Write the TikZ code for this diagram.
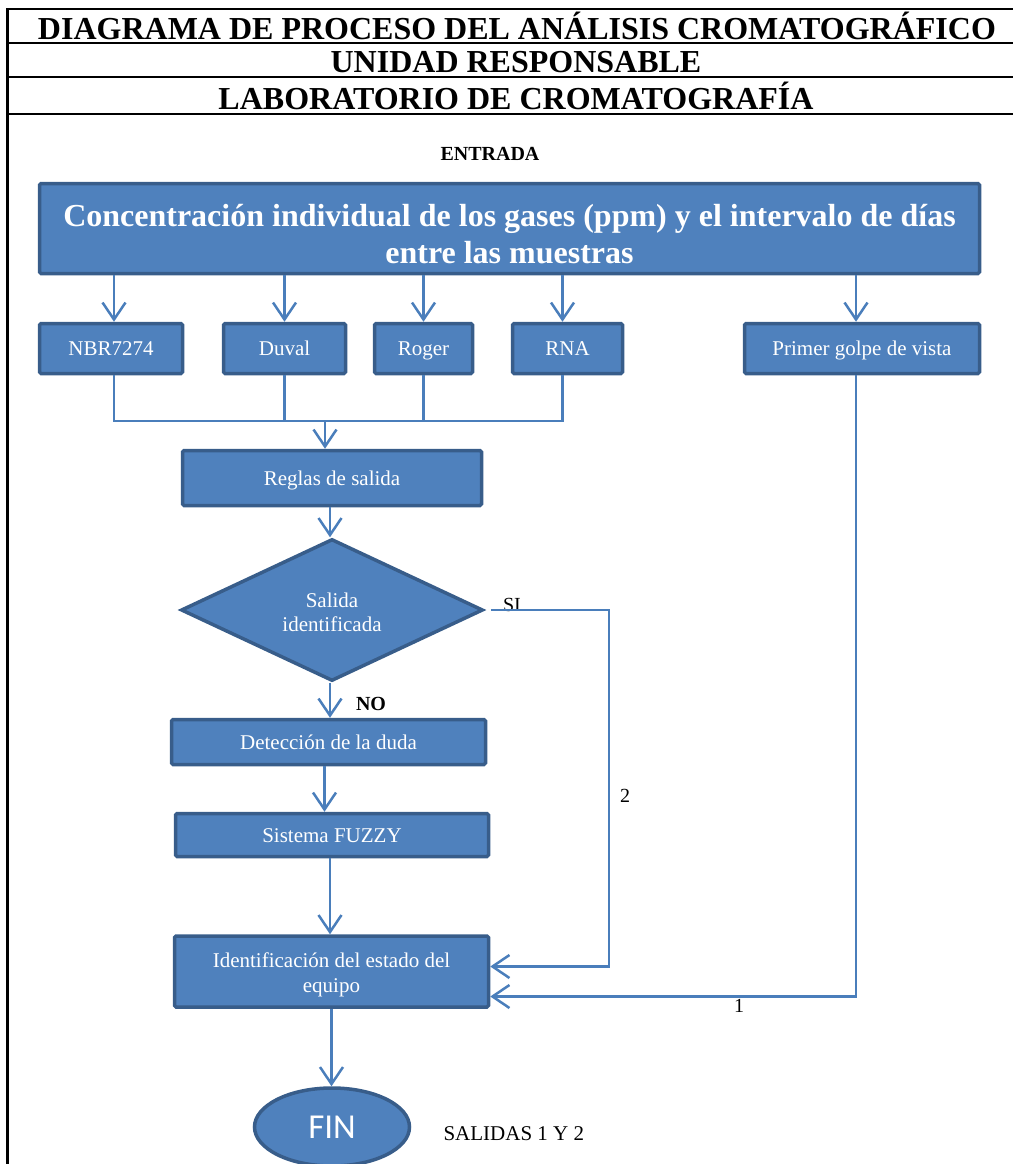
\documentclass[tikz,border=0pt]{standalone}
\usepackage{fontspec}
\setmainfont{Liberation Serif}
\newfontfamily\finfont{Carlito}
\usetikzlibrary{shapes.geometric, arrows.meta}
\definecolor{boxblue}{HTML}{4F81BD}
\definecolor{boxedge}{HTML}{385D8A}
\definecolor{linkblue}{HTML}{4A7EBB}
\tikzset{%
  x=1pt, y=-1pt, % one unit is one pixel of the page, y runs downwards
  stepbox/.style={draw=boxedge, fill=boxblue, line width=3.5pt, rounded corners=1.5pt,
    text=white, inner sep=0pt, align=center, font=\fontsize{21}{24}\selectfont},
  oneline/.style={text height=17pt, text depth=3pt}, % same baseline for every single line box
  headtext/.style={anchor=base, font=\fontsize{32}{36}\selectfont\bfseries},
  plain/.style={anchor=base, font=\fontsize{20}{24}\selectfont},
  rule/.style={line width=2.2pt},
  link/.style={draw=linkblue, line width=2.5pt},
  flow/.style={link, -{Straight Barb[length=17pt, width=23pt]}}
}
\newcommand{\pushdown}[1]{\rule{0pt}{#1}} % taller first line, text sits lower

\begin{document}
\begin{tikzpicture}
    \useasboundingbox (0,0) rectangle (1013,1164);

    % header table
    \draw[rule] (7.5,9) -- (7.5,1164);
    \foreach \y in {9, 43, 77, 114}
      \draw[rule] (6.4,\y) -- (1013,\y);
    \node[headtext] (titulo) at (517,40) {DIAGRAMA DE PROCESO DEL ANÁLISIS CROMATOGRÁFICO};
    \node[headtext] (unidad) at (516,73) {UNIDAD RESPONSABLE};
    \node[headtext] (lab) at (516,109) {LABORATORIO DE CROMATOGRAFÍA};
    \node[plain, font=\fontsize{20}{22}\selectfont\bfseries] (entrada) at (490,160) {ENTRADA};

    \node[stepbox, minimum width=940, minimum height=90, font=\fontsize{32}{37}\selectfont\bfseries]
      (main) at (509.5,228.5) {\pushdown{34pt}Concentración individual de los gases (ppm) y el intervalo de días\\
      entre las muestras};

    \node[stepbox, oneline, minimum width=143, minimum height=50] (nbr) at (111,348.5) {NBR7274};
    \node[stepbox, oneline, minimum width=122, minimum height=50] (duval) at (284.5,348.5) {Duval};
    \node[stepbox, oneline, minimum width=98, minimum height=50] (roger) at (423.5,348.5) {Roger};
    \node[stepbox, oneline, minimum width=110, minimum height=50] (rna) at (567.5,348.5) {RNA};
    \node[stepbox, oneline, minimum width=235, minimum height=50] (primer) at (862,348.5) {Primer golpe de vista};

    \node[stepbox, oneline, minimum width=299, minimum height=55] (reglas) at (332,478) {Reglas de salida};
    \node[stepbox, diamond, rounded corners=0pt, minimum width=302, minimum height=142, aspect=2.1]
      (diam) at (332,610) {\pushdown{20pt}Salida\\identificada};
    \node[stepbox, oneline, minimum width=314, minimum height=45] (det) at (328.5,742) {Detección de la duda};
    \node[stepbox, oneline, minimum width=313, minimum height=43] (fuzzy) at (332,835) {Sistema FUZZY};
    \node[stepbox, minimum width=314, minimum height=71, font=\fontsize{21}{25}\selectfont]
      (ident) at (331.5,971.5) {\pushdown{22pt}Identificación del estado del\\equipo};
    \node[stepbox, ellipse, minimum width=155, minimum height=78, font=\fontsize{35}{40}\selectfont\finfont]
      (fin) at (332,1127) {FIN};

    \node[plain] (lblsi) at (512,611) {SI};
    \node[plain, font=\fontsize{20}{24}\selectfont\bfseries] (lblno) at (371,710) {NO};
    \node[plain] (lbldos) at (625,802) {2};
    \node[plain] (lbluno) at (739,1012) {1};
    \node[plain, anchor=base west, font=\fontsize{21}{24}\selectfont] (salidas) at (440,1140) {SALIDAS 1 Y 2};

    \coordinate (busL) at (114,421);
    \coordinate (sicorner) at (609,610);

    \draw[flow] ([xshift=3pt]nbr.north |- main.south) -- ([xshift=3pt]nbr.north);
    \draw[flow] (duval.north |- main.south) -- (duval.north);
    \draw[flow] (roger.north |- main.south) -- (roger.north);
    \draw[flow] ([xshift=-5pt]rna.north |- main.south) -- ([xshift=-5pt]rna.north);
    \draw[flow] ([xshift=-6pt]primer.north |- main.south) -- ([xshift=-6pt]primer.north);

    % the four methods meet on one line
    \draw[link] ([xshift=3pt]nbr.south) -- (busL) -- ([xshift=-5pt]rna.south |- busL) -- ([xshift=-5pt]rna.south);
    \draw[link] (duval.south) -- (duval.south |- busL);
    \draw[link] (roger.south) -- (roger.south |- busL);
    \draw[flow] ([xshift=-7pt]reglas.north |- busL) -- ([xshift=-7pt]reglas.north);

    \draw[flow] ([xshift=-2pt]reglas.south) -- ([xshift=-2pt]diam.north);
    \draw[flow] ([xshift=-2pt]diam.south) -- ([xshift=-2pt]diam.south |- det.north);
    \draw[flow] ([xshift=-4pt]det.south) -- ([xshift=-4pt]det.south |- fuzzy.north);
    \draw[flow] ([xshift=-2pt]fuzzy.south) -- ([xshift=-2pt]fuzzy.south |- ident.north);
    \draw[flow] (ident.south) -- (ident.south |- fin.north);

    \draw[flow] ([xshift=6pt]diam.east) -- (sicorner) |- ([yshift=5pt]ident.east);
    \draw[flow] ([xshift=-6pt]primer.south) |- ([yshift=-25pt]ident.east);
\end{tikzpicture}
\end{document}
